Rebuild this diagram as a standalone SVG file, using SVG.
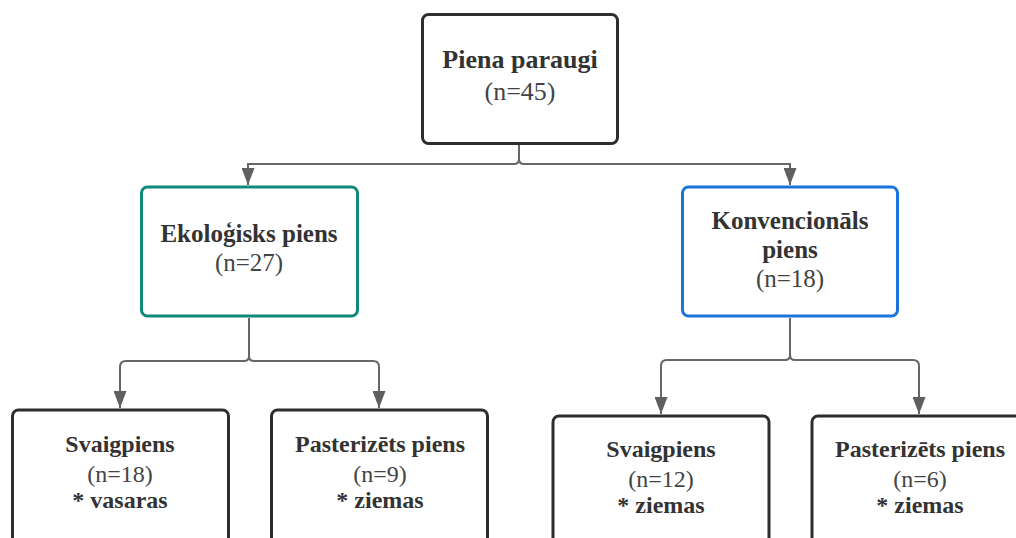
<svg xmlns="http://www.w3.org/2000/svg" width="1016" height="538" viewBox="0 0 1016 538">
<style>
.box{fill:#fff;stroke-width:3;}
.dark{stroke:#2b2d2f;}
.green{stroke:#10897a;}
.blue{stroke:#1b74dc;}
.conn{fill:none;stroke:#666;stroke-width:2;}
.t{text-anchor:middle;}
.b{font-weight:bold;fill:#333;}
.r{fill:#444;}
</style>
<defs>
<marker id="arr" markerUnits="userSpaceOnUse" markerWidth="17" markerHeight="13" refX="17" refY="6.5" viewBox="0 0 17 13" orient="auto">
<path d="M0,0 L17,6.5 L0,13 Z" fill="#5f5f5f"/>
</marker>
</defs>
<g id="connectors">
<path class="conn" d="M519,145 V159 Q519,164 514,164 H248 V185" marker-end="url(#arr)"/>
<path class="conn" d="M519,145 V159 Q519,164 524,164 H790 V185" marker-end="url(#arr)"/>
<path class="conn" d="M249,318 V356 Q249,361 244,361 H126 Q120,361 120,367 V408" marker-end="url(#arr)"/>
<path class="conn" d="M249,318 V356 Q249,361 254,361 H373 Q379,361 379,367 V408" marker-end="url(#arr)"/>
<path class="conn" d="M790,318 V355 Q790,360 785,360 H667 Q661,360 661,366 V414" marker-end="url(#arr)"/>
<path class="conn" d="M790,318 V355 Q790,360 795,360 H913 Q919,360 919,366 V414" marker-end="url(#arr)"/>
</g>
<g font-family="'Liberation Serif', 'DejaVu Serif', serif">
<g id="node-root">
<rect class="box dark" x="422.5" y="14.5" width="195" height="129" rx="6"/>
<text class="t b" x="520" y="68" font-size="26">Piena paraugi</text>
<text class="t r" x="520" y="100" font-size="26">(n=45)</text>
</g>
<g id="node-eko">
<rect class="box green" x="141.5" y="187" width="216" height="129" rx="6"/>
<text class="t b" x="249" y="242" font-size="25">Ekoloģisks piens</text>
<text class="t r" x="249" y="271" font-size="25">(n=27)</text>
</g>
<g id="node-konv">
<rect class="box blue" x="682.5" y="187" width="215" height="129" rx="6"/>
<text class="t b" x="790" y="229" font-size="25">Konvencionāls</text>
<text class="t b" x="790" y="258" font-size="25">piens</text>
<text class="t r" x="790" y="287" font-size="25">(n=18)</text>
</g>
<g id="node-eko-svaig">
<rect class="box dark" x="12.5" y="410" width="216" height="140" rx="6"/>
<text class="t b" x="120" y="452" font-size="24">Svaigpiens</text>
<text class="t r" x="120" y="482" font-size="24">(n=18)</text>
<text class="t b" x="120" y="508" font-size="24">* vasaras</text>
</g>
<g id="node-eko-past">
<rect class="box dark" x="271.5" y="410" width="216" height="140" rx="6"/>
<text class="t b" x="380" y="452" font-size="24">Pasterizēts piens</text>
<text class="t r" x="380" y="482" font-size="24">(n=9)</text>
<text class="t b" x="380" y="508" font-size="24">* ziemas</text>
</g>
<g id="node-konv-svaig">
<rect class="box dark" x="553" y="416" width="216" height="140" rx="6"/>
<text class="t b" x="661" y="457" font-size="24">Svaigpiens</text>
<text class="t r" x="661" y="487" font-size="24">(n=12)</text>
<text class="t b" x="661" y="513" font-size="24">* ziemas</text>
</g>
<g id="node-konv-past">
<rect class="box dark" x="812" y="416" width="216" height="140" rx="6"/>
<text class="t b" x="920" y="457" font-size="24">Pasterizēts piens</text>
<text class="t r" x="920" y="487" font-size="24">(n=6)</text>
<text class="t b" x="920" y="513" font-size="24">* ziemas</text>
</g>
</g>
</svg>
